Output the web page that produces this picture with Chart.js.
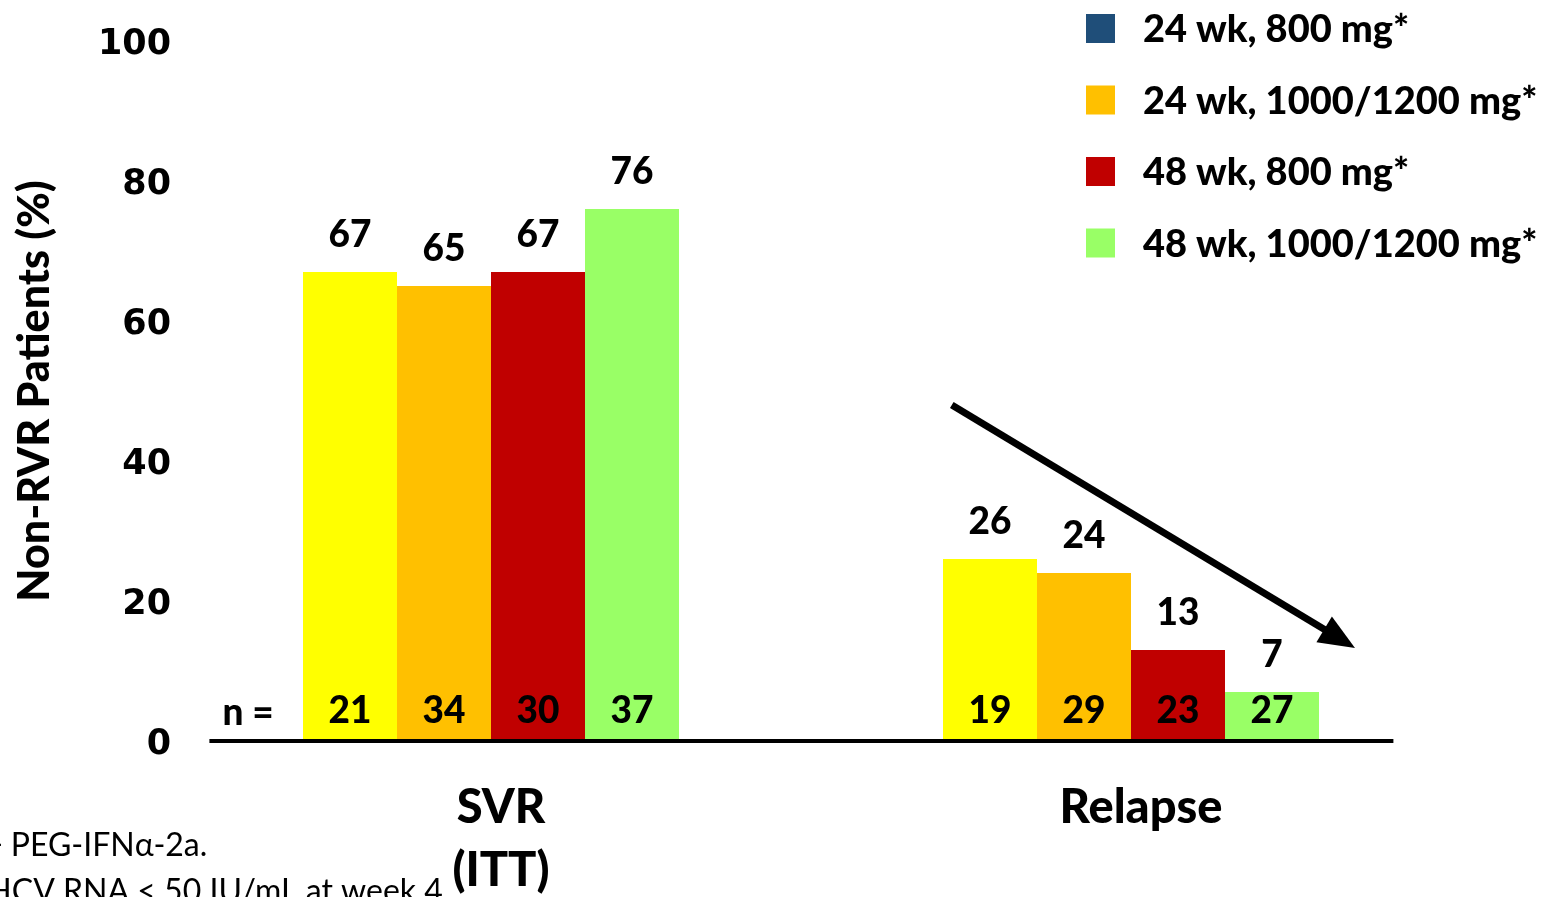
<!DOCTYPE html>
<html>
<head>
<meta charset="utf-8">
<script src="https://cdn.jsdelivr.net/npm/chart.js@4"></script>
<style>
  html, body { margin: 0; background: #fff; }
  #wrap { width: 1553px; height: 897px; position: relative; }
</style>
</head>
<body>
<div id="wrap"><canvas id="chart"></canvas></div>
<script>
const categories = [["SVR", "(ITT)"], "Relapse"];
const seriesNames = ["24 wk, 800 mg*", "24 wk, 1000/1200 mg*", "48 wk, 800 mg*", "48 wk, 1000/1200 mg*"];
const svrValues = [67, 65, 67, 76];
const relapseValues = [26, 24, 13, 7];
const svrCounts = [21, 34, 30, 37];
const relapseCounts = [19, 29, 23, 27];
const yTicks = [0, 20, 40, 60, 80, 100];
// trend arrow over the relapse bars, in axis units [category, percent]
const trendFrom = [0.72, 48];
const trendTo = [1.35, 13.3];

const barColors = ["#FFFF00", "#FFC000", "#C00000", "#99FF66"];
const legendColors = ["#1F4E79", "#FFC000", "#C00000", "#99FF66"];
const FONT = "Lato, 'Open Sans', sans-serif";

const datasets = seriesNames.map((name, i) => ({
  label: name,
  data: [svrValues[i], relapseValues[i]],
  counts: [svrCounts[i], relapseCounts[i]],
  backgroundColor: barColors[i],
  borderWidth: 0
}));

const extras = {
  id: "extras",
  afterDatasetsDraw(chart) {
    const { ctx, scales: { x, y } } = chart;
    const base = y.getPixelForValue(0);
    ctx.save();

    // base line
    ctx.strokeStyle = "#000";
    ctx.lineWidth = 4;
    ctx.beginPath();
    ctx.moveTo(x.getPixelForValue(-0.44), base);
    ctx.lineTo(x.getPixelForValue(1.41), base);
    ctx.stroke();

    // values above, group sizes inside
    ctx.fillStyle = "#000";
    ctx.textAlign = "center";
    ctx.textBaseline = "middle";
    ctx.font = "900 37px " + FONT;
    chart.data.datasets.forEach((ds, i) => {
      chart.getDatasetMeta(i).data.forEach((bar, j) => {
        ctx.fillText(String(ds.data[j]), bar.x, bar.y - 37);
        ctx.fillText(String(ds.counts[j]), bar.x, base - 30);
      });
    });
    const first = chart.getDatasetMeta(0).data[0];
    ctx.fillText("n =", first.x - first.width / 2 - 55, base - 28);

    // arrow
    const x1 = x.getPixelForValue(trendFrom[0]), y1 = y.getPixelForValue(trendFrom[1]);
    const x2 = x.getPixelForValue(trendTo[0]), y2 = y.getPixelForValue(trendTo[1]);
    const ang = Math.atan2(y2 - y1, x2 - x1);
    const head = 36, half = 15;
    ctx.lineWidth = 7;
    ctx.beginPath();
    ctx.moveTo(x1, y1);
    ctx.lineTo(x2 - Math.cos(ang) * head * 0.8, y2 - Math.sin(ang) * head * 0.8);
    ctx.stroke();
    ctx.beginPath();
    ctx.moveTo(x2, y2);
    ctx.lineTo(x2 - head * Math.cos(ang) + half * Math.sin(ang), y2 - head * Math.sin(ang) - half * Math.cos(ang));
    ctx.lineTo(x2 - head * Math.cos(ang) - half * Math.sin(ang), y2 - head * Math.sin(ang) + half * Math.cos(ang));
    ctx.closePath();
    ctx.fill();

    // legend
    ctx.textAlign = "left";
    ctx.font = "900 38px " + FONT;
    seriesNames.forEach((name, i) => {
      const cy = 28 + i * 71.5;
      ctx.fillStyle = legendColors[i];
      ctx.fillRect(1086, cy - 14, 29, 29);
      ctx.fillStyle = "#000";
      ctx.fillText(name, 1143, cy + 2);
    });

    // footnotes (run off the left edge)
    ctx.font = "32px " + FONT;
    ctx.textBaseline = "alphabetic";
    ctx.fillText("+ PEG-IFN\u03b1-2a.", -16, 856);
    ctx.fillText("RVR: HCV RNA < 50 IU/mL at week 4.", -90, 902);
    ctx.restore();
  }
};

new Chart(document.getElementById("chart"), {
  type: "bar",
  data: { labels: categories, datasets },
  options: {
    responsive: true,
    maintainAspectRatio: false,
    animation: false,
    layout: { padding: { top: 41, right: 102, left: 0, bottom: 0 } },
    datasets: { bar: { categoryPercentage: 0.5875, barPercentage: 1 } },
    plugins: { legend: { display: false }, tooltip: { enabled: false } },
    scales: {
      x: {
        grid: { display: false, drawTicks: false },
        border: { display: false },
        ticks: { color: "#000", padding: 35, labelOffset: 10, font: { family: FONT, size: 47, weight: "900", lineHeight: 1.35 } },
        afterFit(scale) { scale.height = 156; }
      },
      y: {
        min: 0,
        max: 100,
        grid: { display: false, drawTicks: false },
        border: { display: false },
        afterBuildTicks(scale) { scale.ticks = yTicks.map(v => ({ value: v })); },
        ticks: { color: "#000", padding: 0, labelOffset: 4, font: { family: "'DejaVu Sans'", size: 35, weight: "bold" } },
        title: {
          display: true,
          text: "Non-RVR Patients (%)",
          color: "#000",
          padding: { top: 9, bottom: 0 },
          font: { family: FONT, size: 43, weight: "900" }
        },
        afterFit(scale) { scale.width = 171; }
      }
    }
  },
  plugins: [extras]
});
</script>
</body>
</html>
